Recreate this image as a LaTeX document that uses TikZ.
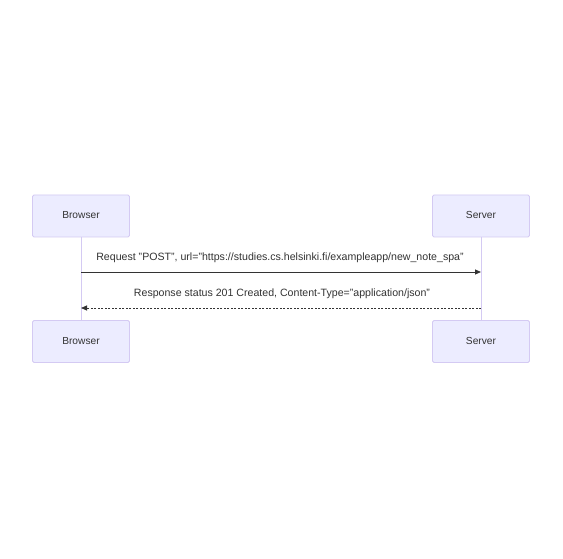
\documentclass[tikz,border=0pt]{standalone}
\usepackage{fontspec}
\setmainfont{Liberation Sans}
\usetikzlibrary{arrows.meta}
\definecolor{actfill}{HTML}{ECECFF}
\definecolor{actline}{HTML}{D4CAF3}
\definecolor{ink}{HTML}{333333}
\begin{document}
\begin{tikzpicture}[x=1pt,y=-1pt,
  actor/.style={draw=actline,fill=actfill,line width=0.8pt,rounded corners=1.5pt,
    minimum width=97pt,minimum height=42pt,inner sep=0pt,text height=7.4pt,text depth=2pt,
    font=\fontsize{10.2}{12}\selectfont,text=ink},
  lifeline/.style={draw=actline,line width=1pt},
  msg/.style={draw=ink,line width=0.8pt,-{Triangle[length=6pt,width=5pt]}},
  msglabel/.style={font=\fontsize{10.6}{12}\selectfont,text=ink,text height=7.6pt,text depth=2.2pt}]
\useasboundingbox (0,0) rectangle (563,559);
\fill[white] (0,0) rectangle (563,559);
\coordinate (btop) at (81,237);
\coordinate (bbot) at (81,321);
\coordinate (stop) at (481,237);
\coordinate (sbot) at (481,321);
\draw[lifeline] (btop) -- (bbot);
\draw[lifeline] (stop) -- (sbot);
\node[actor] (b1) at (81,216) {Browser};
\node[actor] (s1) at (481,216) {Server};
\node[actor] (b2) at (81,341.5) {Browser};
\node[actor] (s2) at (481,341.5) {Server};
\coordinate (r1a) at (81,272);
\coordinate (r1b) at (481,272);
\coordinate (r2a) at (481,308);
\coordinate (r2b) at (81,308);
\draw[msg] (r1a) -- (r1b);
\draw[msg,dash pattern=on 2pt off 1.5pt] (r2a) -- (r2b);
\node[msglabel] (m1) at (280,257.5) {Request "POST", url="https://studies.cs.helsinki.fi/exampleapp/new\_note\_spa"};
\node[msglabel] (m2) at (282,293.5) {Response status 201 Created, Content-Type="application/json"};
\end{tikzpicture}
\end{document}
